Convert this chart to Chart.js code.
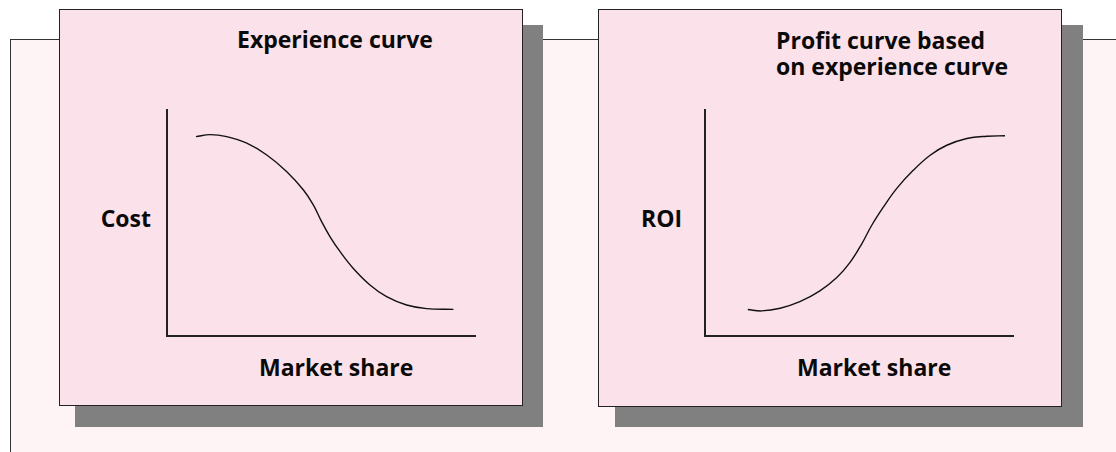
<!DOCTYPE html>
<html>
<head>
<meta charset="utf-8">
<script src="https://cdn.jsdelivr.net/npm/chart.js@4/dist/chart.umd.min.js"></script>
<style>
  html, body { margin: 0; padding: 0; background: #ffffff; }
  body { width: 1116px; height: 452px; position: relative; overflow: hidden; font-family: "Open Sans", "DejaVu Sans", sans-serif; }
  .abs { position: absolute; box-sizing: border-box; }
  .frame { left: 10px; top: 39px; width: 1140px; height: 440px; background: #fef4f5; border: 1.5px solid #333; }
  .shadow { background: #808080; }
  .panel { background: #fbe1e9; border: 1.5px solid #222; }
  .label { font-weight: 700; font-size: 23px; line-height: 26px; color: #0a0a0a; white-space: nowrap; }
  canvas { position: absolute; }
</style>
</head>
<body>
<div class="abs frame"></div>

<div class="abs shadow" style="left:75px; top:25px; width:468px; height:402px;"></div>
<div class="abs panel" style="left:59px; top:9px; width:464px; height:397px;"></div>

<div class="abs shadow" style="left:615px; top:25px; width:468px; height:402px;"></div>
<div class="abs panel" style="left:598px; top:9px; width:464px; height:398px;"></div>

<div class="abs label" style="left:237px; top:26px;">Experience curve</div>
<div class="abs label" style="left:60px; width:91px; text-align:right; top:205px;">Cost</div>
<div class="abs label" style="left:259px; top:354px;">Market share</div>

<div class="abs label" style="left:776px; top:27px;">Profit curve based<br>on experience curve</div>
<div class="abs label" style="left:641px; top:205px;">ROI</div>
<div class="abs label" style="left:797px; top:354px;">Market share</div>

<canvas id="costChart" width="330" height="246" style="left:157px; top:100px;"></canvas>
<canvas id="roiChart" width="330" height="246" style="left:695px; top:100px;"></canvas>

<script>
// Experience curve: unit cost against market share (arbitrary 0-100 units)
const costShare = [9.4, 14.0, 19.4, 25.9, 32.4, 38.9, 44.3, 47.5, 50.2, 52.9, 56.2, 60.5, 65.9, 71.3, 77.8, 84.3, 93.0];
const costLevel = [88.2, 89.1, 88.2, 85.3, 80.1, 72.7, 64.6, 58.0, 50.6, 44.0, 37.3, 29.9, 22.6, 17.4, 13.7, 12.1, 11.8];

// Profit curve: return on investment against market share
const roiShare = [13.9, 18.4, 24.4, 30.8, 37.3, 42.8, 47.1, 50.9, 54.1, 57.9, 62.2, 67.6, 73.1, 78.5, 85.0, 91.5, 97.4];
const roiLevel = [11.7, 11.1, 12.3, 15.2, 20.0, 25.9, 32.6, 40.8, 48.9, 57.0, 65.2, 73.3, 80.0, 84.4, 87.4, 88.4, 88.6];

const axisRange = [0, 100];

function makeCurve(canvasId, xs, ys) {
  const pts = xs.map((x, i) => ({ x: x, y: ys[i] }));
  const bareAxis = {
    type: 'linear',
    min: axisRange[0],
    max: axisRange[1],
    grid: { display: false, drawTicks: false },
    ticks: { display: false },
    border: { display: true, color: '#222222', width: 2 }
  };
  return new Chart(document.getElementById(canvasId), {
    type: 'line',
    data: {
      datasets: [{
        data: pts,
        borderColor: '#111111',
        borderWidth: 1.4,
        pointRadius: 0,
        fill: false,
        tension: 0.4
      }]
    },
    options: {
      responsive: false,
      animation: false,
      devicePixelRatio: 1,
      layout: { padding: { left: 10, top: 10, right: 12, bottom: 10 } },
      plugins: { legend: { display: false }, tooltip: { enabled: false }, title: { display: false } },
      scales: {
        x: Object.assign({}, bareAxis, { position: 'bottom' }),
        y: Object.assign({}, bareAxis, { position: 'left' })
      }
    }
  });
}

makeCurve('costChart', costShare, costLevel);
makeCurve('roiChart', roiShare, roiLevel);
</script>
</body>
</html>
